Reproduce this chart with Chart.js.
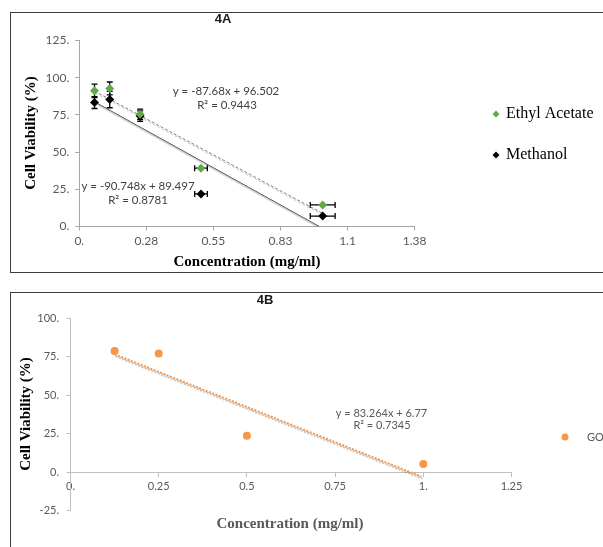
<!DOCTYPE html>
<html>
<head>
<meta charset="utf-8">
<script src="https://cdn.jsdelivr.net/npm/chart.js@4"></script>
<style>
  html, body { margin: 0; padding: 0; background: #fff; overflow: hidden; width: 603px; height: 547px; }
  .panel { position: absolute; border: 1.5px solid #3c3c3c; }
  canvas { position: absolute; left: 0; }
</style>
</head>
<body>
<div class="panel" style="left:10px; top:12px; width:620px; height:259px;"></div>
<div class="panel" style="left:10px; top:292px; width:620px; height:300px;"></div>
<canvas id="chartA" width="603" height="280" style="top:0"></canvas>
<canvas id="chartB" width="603" height="267" style="top:280px"></canvas>
<script>
// 4A - concentrations and viabilities
const concA = [0.0625, 0.125, 0.25, 0.5, 1];
const ethylA = [91.2, 92.8, 75.4, 39.2, 14.5];
const methanolA = [83.3, 85.3, 74.2, 21.9, 7.0];
const ethylErrY = [4.5, 4.3, 3.5, 0, 0];
const methanolErrY = [4, 5.5, 3.5, 0, 0];
const concErrA = [0, 0, 0, 0.026, 0.051];
const ethylTrendX = [0.0625, 1];
const ethylTrendY = [91.0, 8.8];
const methanolTrendX = [0.0625, 0.986];
const methanolTrendY = [83.8, 0];
const xTicksA = ['0.', '0.28', '0.55', '0.83', '1.1', '1.38'];
const yTicksA = ['0.', '25.', '50.', '75.', '100.', '125.'];

// 4B
const concB = [0.125, 0.25, 0.5, 1];
const goB = [78.6, 77, 23.6, 5.2];
const goTrendX = [0.125, 0.995];
const goTrendY = [76.4, -3];
const xTicksB = ['0.', '0.25', '0.5', '0.75', '1.', '1.25'];
const yTicksB = ['-25.', '0.', '25.', '50.', '75.', '100.'];

const GREEN = '#62a94a';
const ORANGE = '#f79646';
const SERIF = '"Liberation Serif", "Times New Roman", serif';
Chart.defaults.font.family = 'Lato';

const pts = (xs, ys) => xs.map((x, i) => ({ x: x, y: ys[i] }));

function diamond(ctx, x, y, r, color) {
    ctx.beginPath();
    ctx.moveTo(x, y - r); ctx.lineTo(x + r, y); ctx.lineTo(x, y + r); ctx.lineTo(x - r, y);
    ctx.closePath();
    ctx.fillStyle = color;
    ctx.fill();
}

// error bars, shadows, texts and legend
const decor = {
    id: 'decor',
    beforeDatasetsDraw(chart) {
        const ctx = chart.ctx, xs = chart.scales.x, ys = chart.scales.y;
        ctx.save();
        ctx.strokeStyle = '#000';
        ctx.lineWidth = 1.3;
        chart.data.datasets.forEach(ds => {
            if (!ds.errY) return;
            ds.data.forEach((p, i) => {
                const px = xs.getPixelForValue(p.x), py = ys.getPixelForValue(p.y);
                ctx.beginPath();
                if (ds.errY[i]) {
                    const t = ys.getPixelForValue(p.y + ds.errY[i]), b = ys.getPixelForValue(p.y - ds.errY[i]);
                    ctx.moveTo(px, t); ctx.lineTo(px, b);
                    ctx.moveTo(px - 3, t); ctx.lineTo(px + 3, t);
                    ctx.moveTo(px - 3, b); ctx.lineTo(px + 3, b);
                }
                if (ds.errX[i]) {
                    const l = xs.getPixelForValue(p.x - ds.errX[i]), r = xs.getPixelForValue(p.x + ds.errX[i]);
                    ctx.moveTo(l, py); ctx.lineTo(r, py);
                    ctx.moveTo(l, py - 3); ctx.lineTo(l, py + 3);
                    ctx.moveTo(r, py - 3); ctx.lineTo(r, py + 3);
                }
                ctx.stroke();
            });
        });
        ctx.restore();
    },
    beforeDatasetDraw(chart, args) {
        const ctx = chart.ctx;
        ctx.save();
        if (chart.data.datasets[args.index].shadow) {
            ctx.shadowColor = 'rgba(0,0,0,0.28)';
            ctx.shadowOffsetX = 1;
            ctx.shadowOffsetY = 2;
            ctx.shadowBlur = 1;
        }
    },
    afterDatasetDraw(chart) {
        chart.ctx.restore();
    },
    afterDraw(chart, args, opts) {
        const ctx = chart.ctx;
        ctx.save();
        (opts.texts || []).forEach(t => {
            ctx.save();
            ctx.translate(t.x, t.y);
            if (t.rot) ctx.rotate(t.rot);
            ctx.font = t.font;
            ctx.fillStyle = t.color || '#000';
            ctx.textAlign = t.align || 'center';
            ctx.textBaseline = 'middle';
            ctx.fillText(t.text, 0, 0);
            ctx.restore();
        });
        const lg = opts.legend;
        if (lg) {
            let y = lg.y;
            chart.data.datasets.filter(ds => ds.label).forEach(ds => {
                if (ds.pointStyle === 'rectRot') diamond(ctx, lg.x, y, lg.r, ds.backgroundColor);
                else {
                    ctx.beginPath();
                    ctx.arc(lg.x, y, lg.r, 0, Math.PI * 2);
                    ctx.fillStyle = ds.backgroundColor;
                    ctx.fill();
                }
                ctx.font = lg.font;
                ctx.fillStyle = lg.color;
                ctx.textAlign = 'left';
                ctx.textBaseline = 'middle';
                ctx.fillText(ds.label, lg.x + lg.gap, y);
                y += lg.dy;
            });
        }
        ctx.restore();
    }
};

function axis(min, max, step, labels, opts) {
    return {
        type: 'linear',
        min: min, max: max,
        position: opts.position,
        afterFit: opts.fit,
        border: { display: true, color: opts.line, width: 1 },
        grid: { display: true, drawOnChartArea: false, drawTicks: true, tickLength: 4, color: opts.line },
        ticks: {
            stepSize: step, autoSkip: false, maxRotation: 0,
            padding: opts.pad,
            color: '#595959',
            font: { family: 'Lato', size: opts.size },
            callback: (v, i) => labels[i]
        }
    };
}

// Chart 4A
new Chart(document.getElementById('chartA'), {
    type: 'scatter',
    data: {
        datasets: [
            { label: 'Ethyl Acetate', data: pts(concA, ethylA), errY: ethylErrY, errX: concErrA,
              pointStyle: 'rectRot', pointRadius: 4.5, backgroundColor: GREEN, borderColor: GREEN, borderWidth: 0 },
            { label: 'Methanol', data: pts(concA, methanolA), errY: methanolErrY, errX: concErrA,
              pointStyle: 'rectRot', pointRadius: 4.5, backgroundColor: '#000', borderColor: '#000', borderWidth: 0 },
            { data: pts(ethylTrendX, ethylTrendY), showLine: true, pointRadius: 0, shadow: true,
              borderColor: '#7f7f7f', borderWidth: 1, borderDash: [3, 2] },
            { data: pts(methanolTrendX, methanolTrendY), showLine: true, pointRadius: 0, shadow: true,
              borderColor: '#505050', borderWidth: 1 }
        ]
    },
    options: {
        responsive: false,
        animation: false,
        events: [],
        layout: { padding: { left: 0, right: 188.4, top: 40.5, bottom: 33.5 } },
        scales: {
            x: axis(0, 1.3775, 0.2755, xTicksA, { position: 'bottom', line: '#a6a6a6', pad: 3, size: 12, fit: s => { s.height = 20; } }),
            y: axis(0, 125, 25, yTicksA, { position: 'left', line: '#a6a6a6', pad: 6, size: 12, fit: s => { s.width = 79.3; } })
        },
        plugins: {
            legend: { display: false },
            tooltip: { enabled: false },
            decor: {
                texts: [
                    { text: '4A', x: 223, y: 19, font: 'bold 13px "Liberation Sans"', color: '#1a1a1a' },
                    { text: 'Cell Viability (%)', x: 31, y: 133, rot: -Math.PI / 2, font: 'bold 15px ' + SERIF },
                    { text: 'Concentration (mg/ml)', x: 247, y: 262, font: 'bold 15px ' + SERIF },
                    { text: 'y = -87.68x + 96.502', x: 226, y: 91.5, font: '11.5px Lato', color: '#404040' },
                    { text: 'R² = 0.9443', x: 227, y: 105.7, font: '11.5px Lato', color: '#404040' },
                    { text: 'y = -90.748x + 89.497', x: 138, y: 186, font: '11.5px Lato', color: '#404040' },
                    { text: 'R² = 0.8781', x: 138, y: 200, font: '11.5px Lato', color: '#404040' }
                ],
                legend: { x: 496, y: 114, dy: 41, r: 3.5, gap: 10, font: '16px ' + SERIF, color: '#000' }
            }
        }
    },
    plugins: [decor]
});

// Chart 4B
new Chart(document.getElementById('chartB'), {
    type: 'scatter',
    data: {
        datasets: [
            { label: 'GO', data: pts(concB, goB), pointStyle: 'circle', pointRadius: 4,
              backgroundColor: ORANGE, borderColor: ORANGE, borderWidth: 0 },
            { data: pts(goTrendX, goTrendY), showLine: true, pointRadius: 0, shadow: true,
              borderColor: ORANGE, borderWidth: 2, borderDash: [2, 1.5] }
        ]
    },
    options: {
        responsive: false,
        animation: false,
        events: [],
        layout: { padding: { left: 0, right: 91.5, top: 38, bottom: 36.5 } },
        scales: {
            x: axis(0, 1.25, 0.25, xTicksB, { position: { y: 0 }, line: '#bfbfbf', pad: 4, size: 11, fit: s => { s.height = 20; } }),
            y: axis(-25, 100, 25, yTicksB, { position: 'left', line: '#bfbfbf', pad: 7.5, size: 11, fit: s => { s.width = 70.5; } })
        },
        plugins: {
            legend: { display: false },
            tooltip: { enabled: false },
            decor: {
                texts: [
                    { text: '4B', x: 265, y: 20, font: 'bold 13px "Liberation Sans"', color: '#1a1a1a' },
                    { text: 'Cell Viability (%)', x: 26, y: 134, rot: -Math.PI / 2, font: 'bold 15px ' + SERIF },
                    { text: 'Concentration (mg/ml)', x: 290, y: 244, font: 'bold 15px ' + SERIF, color: '#595959' },
                    { text: 'y = 83.264x + 6.77', x: 381.5, y: 133, font: '11px Lato', color: '#595959' },
                    { text: 'R² = 0.7345', x: 382, y: 145.7, font: '11px Lato', color: '#595959' }
                ],
                legend: { x: 565, y: 157, dy: 20, r: 3.5, gap: 22, font: '11px Lato', color: '#595959' }
            }
        }
    },
    plugins: [decor]
});
</script>
</body>
</html>
